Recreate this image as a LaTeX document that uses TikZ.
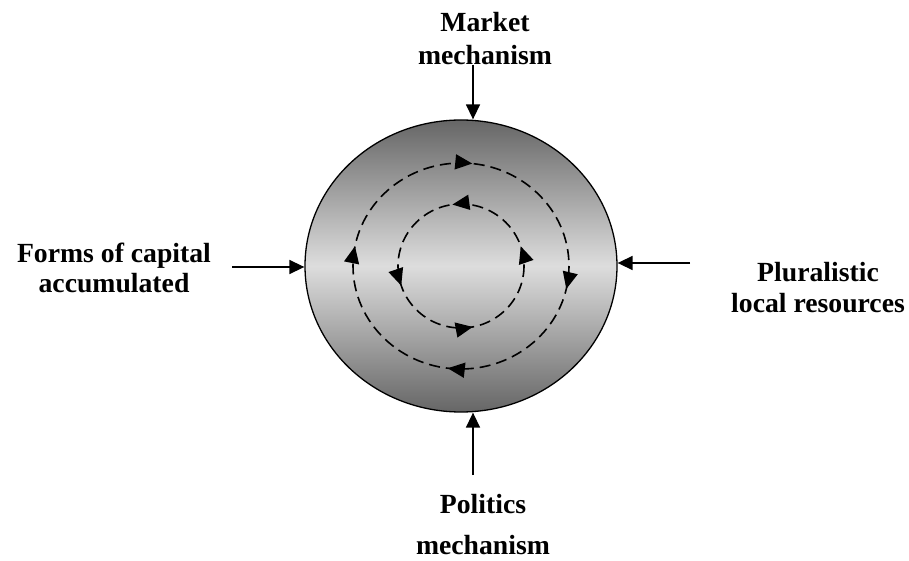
\documentclass[tikz,border=0pt]{standalone}
\usepackage{fontspec}
\setmainfont{Liberation Serif}
\usetikzlibrary{arrows.meta,positioning,calc,shapes.geometric,decorations.markings}
\usepackage{xcolor}
\definecolor{Rim}{HTML}{666666}
\definecolor{Core}{HTML}{DDDDDD}
\tikzset{
 label/.style={font=\bfseries\fontsize{27.7bp}{33bp}\selectfont, align=center, inner sep=0pt},
 feed/.style={-{Triangle[length=15bp,width=14bp]}, line width=1.5bp, draw=black},
 loopline/.style={line width=1.6bp, dash pattern=on 11bp off 6bp},
 clockwise/.style={postaction={decorate}, decoration={markings,
   mark=at position 0.035 with {\arrow{Triangle[length=17bp,width=15bp]}},
   mark=at position 0.27 with {\arrow{Triangle[length=17bp,width=15bp]}},
   mark=at position 0.53 with {\arrow{Triangle[length=17bp,width=15bp]}},
   mark=at position 0.767 with {\arrow{Triangle[length=17bp,width=15bp]}}}},
 counterclockwise/.style={postaction={decorate}, decoration={markings,
   mark=at position 0.22 with {\arrowreversed{Triangle[length=17bp,width=15bp]}},
   mark=at position 0.449 with {\arrowreversed{Triangle[length=17bp,width=15bp]}},
   mark=at position 0.728 with {\arrowreversed{Triangle[length=17bp,width=15bp]}},
   mark=at position 0.949 with {\arrowreversed{Triangle[length=17bp,width=15bp]}}}}
}

\begin{document}
\begin{tikzpicture}[x=1bp,y=-1bp]
\useasboundingbox (0,0) rectangle (909,561);
% the circle
\node[ellipse, draw, line width=1.3bp, minimum width=312bp, minimum height=292bp, inner sep=0pt,
  top color=Rim, bottom color=Rim, middle color=Core] (hub) at (461,266) {};
\draw[loopline, clockwise] (hub.center) ellipse [x radius=108, y radius=103];
\draw[loopline, counterclockwise] (hub.center) ellipse [x radius=63, y radius=62];
% the four labels
\node[label, font=\bfseries\fontsize{27.7bp}{33bp}\selectfont] (market) at (485,39) {Market\\mechanism};
\node[label, font=\bfseries\fontsize{27.7bp}{30bp}\selectfont] (forms) at (114,268) {Forms of capital\\accumulated};
\node[label, font=\bfseries\fontsize{27.7bp}{31bp}\selectfont] (plural) at (818,288) {Pluralistic\\local resources};
\node[label, font=\bfseries\fontsize{27.7bp}{41bp}\selectfont] (politics) at (483,525) {Politics\\mechanism};
% inputs
\coordinate (mk) at (473,65);
\coordinate (fc) at (232,267);
\coordinate (pl) at (690,263);
\coordinate (pm) at (473,475);
\draw[feed] (mk) -- (mk |- hub.north);
\draw[feed] (fc) -- (hub.west |- fc);
\draw[feed] (pl) -- (hub.east |- pl);
\draw[feed] (pm) -- (pm |- hub.south);
\end{tikzpicture}
\end{document}
